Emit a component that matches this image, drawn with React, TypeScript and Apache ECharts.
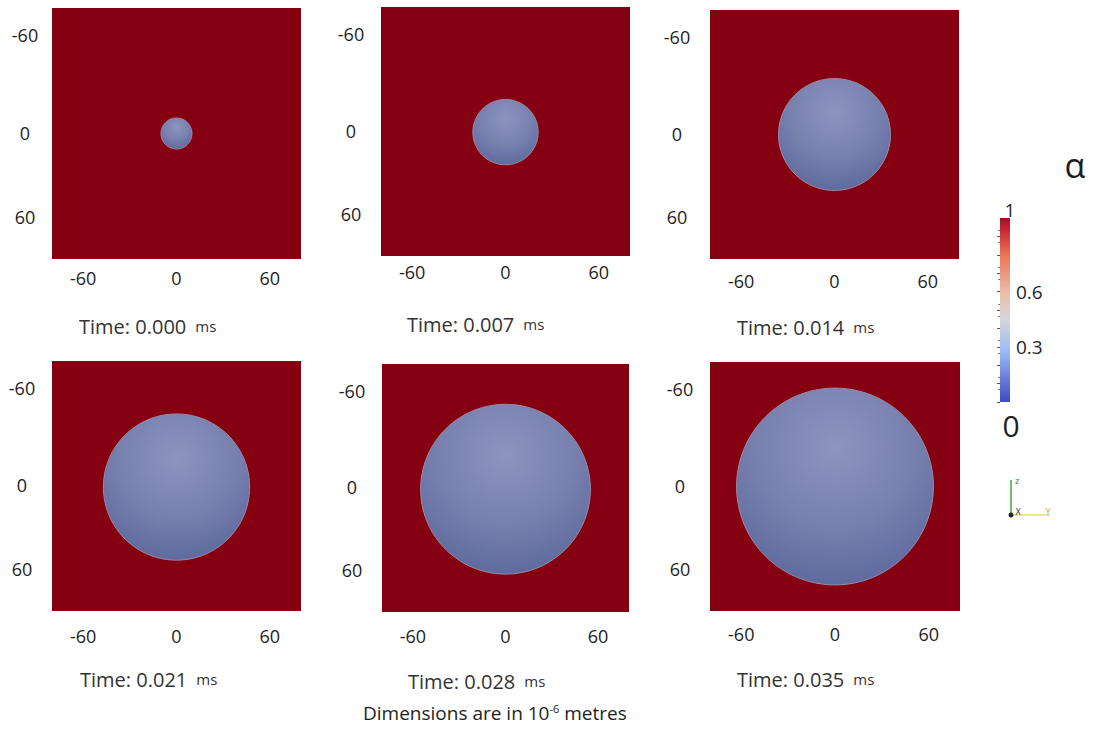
import React, { useEffect, useRef } from "react";
import * as echarts from "echarts";

// ---- data ----
const TIMES = ["0.000", "0.007", "0.014", "0.021", "0.028", "0.035"];
const BUBBLE_RADIUS = [10, 21, 36, 47, 55, 63]; // in 10^-6 m
const BUBBLE_CX = [0, 0, 0, 0, 0, 0];
const BUBBLE_CY = [0, 0, 0, 0, 0, 0];
const TICK_VALUES = [-60, 0, 60];
const AXIS_MIN = -80;
const AXIS_MAX = 80;
const COLORBAR_TICKS = [0.3, 0.6];
const COLORBAR_MIN = 0;
const COLORBAR_MAX = 1;

// ---- layout ----
const PANELS = [
  { left: 52, top: 8, width: 249, height: 251, xm: 10, ym: 27, tx: 79, ty: 330 },
  { left: 381, top: 7, width: 249, height: 249, xm: 7, ym: 30, tx: 407, ty: 328 },
  { left: 710, top: 10, width: 249, height: 249, xm: 13, ym: 33, tx: 737, ty: 331 },
  { left: 52, top: 361, width: 249, height: 250, xm: 16, ym: 30, tx: 80, ty: 683 },
  { left: 382, top: 364, width: 247, height: 248, xm: 15, ym: 30, tx: 408, ty: 685 },
  { left: 710, top: 362, width: 250, height: 249, xm: 14, ym: 30, tx: 737, ty: 683 },
];
const FONT = "Open Sans";
const RED = "#850010";
const INK = "#1e1e1e";

export default function App() {
  const ref = useRef<HTMLDivElement>(null);
  useEffect(() => {
    document.body.style.margin = "0";
    if (!ref.current) return;
    const chart = echarts.init(ref.current, undefined, { renderer: "svg" });

    const grids: any[] = [];
    const xAxes: any[] = [];
    const yAxes: any[] = [];
    const series: any[] = [];
    const titles: any[] = [];

    PANELS.forEach((p, i) => {
      grids.push({
        left: p.left, top: p.top, width: p.width, height: p.height,
        show: true, backgroundColor: RED, borderWidth: 0,
      });
      xAxes.push({
        type: "value", gridIndex: i, min: AXIS_MIN, max: AXIS_MAX,
        axisLine: { show: false }, axisTick: { show: false }, splitLine: { show: false },
        axisLabel: {
          customValues: TICK_VALUES, margin: p.xm, fontFamily: FONT, fontSize: 18, color: INK,
        },
      });
      yAxes.push({
        type: "value", gridIndex: i, min: AXIS_MIN, max: AXIS_MAX, inverse: true,
        axisLine: { show: false }, axisTick: { show: false }, splitLine: { show: false },
        axisLabel: {
          customValues: TICK_VALUES, margin: p.ym, align: "center", fontFamily: FONT, fontSize: 18, color: INK,
          formatter: (v: number) => (v < 0 ? `{a|${v}}` : v > 0 ? `{b|${v}}` : `{c|${v}}`),
          rich: {
            a: { fontFamily: FONT, fontSize: 18, color: INK, padding: [0, 0, 8, 0] },
            b: { fontFamily: FONT, fontSize: 18, color: INK, padding: [0, 0, 22, 0] },
            c: { fontFamily: FONT, fontSize: 18, color: INK, padding: [0, 0, 2, 0] },
          },
        },
      });
      series.push({
        type: "custom", coordinateSystem: "cartesian2d", xAxisIndex: i, yAxisIndex: i,
        data: [[BUBBLE_CX[i], BUBBLE_CY[i], BUBBLE_RADIUS[i]]],
        renderItem: (params: any, api: any) => {
          const c = api.coord([api.value(0), api.value(1)]);
          const s = api.size([api.value(2), 0]);
          return {
            type: "circle",
            shape: { cx: c[0], cy: c[1], r: s[0] },
            style: {
              fill: new echarts.graphic.RadialGradient(0.5, 0.3, 0.8, [
                { offset: 0, color: "#8e94bf" },
                { offset: 0.5, color: "#7880ae" },
                { offset: 1, color: "#56639a" },
              ]),
              stroke: "#9a8aa4",
              lineWidth: 1,
            },
          };
        },
      });
      titles.push({
        text: `{t|Time: ${TIMES[i]} }{u| ms}`,
        left: p.tx, top: p.ty - 14, padding: 0,
        textStyle: {
          fontWeight: "normal",
          rich: {
            t: { fontFamily: FONT, fontSize: 20, color: "#333", fontWeight: "normal" },
            u: { fontFamily: FONT, fontSize: 15, color: "#333", fontWeight: "normal" },
          },
        },
      });
    });

    titles.push({
      text: "{a|Dimensions are in 10}{s|-6}{a| metres}",
      left: 363, top: 703, padding: 0,
      textStyle: {
        fontWeight: "normal",
        rich: {
          a: { fontFamily: FONT, fontSize: 19, color: INK, fontWeight: "normal", verticalAlign: "bottom" },
          s: { fontFamily: FONT, fontSize: 11, color: INK, fontWeight: "normal", verticalAlign: "top" },
        },
      },
    });

    // colour bar grid
    const cbIndex = PANELS.length;
    grids.push({
      left: 1000, top: 218, width: 10, height: 184, show: true, borderWidth: 0,
      backgroundColor: new echarts.graphic.LinearGradient(0, 0, 0, 1, [
        { offset: 0, color: "#b40426" },
        { offset: 0.2, color: "#ec7356" },
        { offset: 0.42, color: "#e8c2ae" },
        { offset: 0.55, color: "#d6d6dc" },
        { offset: 0.72, color: "#9ebcf5" },
        { offset: 1, color: "#3b4cc0" },
      ]),
    });
    xAxes.push({ type: "value", gridIndex: cbIndex, show: false, min: 0, max: 1 });
    yAxes.push({
      type: "value", gridIndex: cbIndex, position: "right", min: COLORBAR_MIN, max: COLORBAR_MAX,
      axisLine: { show: false }, splitLine: { show: false },
      axisTick: { show: true, customValues: [0, 0.1, 0.2, 0.3, 0.4, 0.5, 0.6, 0.7, 0.8, 0.9], length: 3, inside: true, lineStyle: { color: "#555", width: 1 } },
      minorTick: { show: true, splitNumber: 3, length: 2, lineStyle: { color: "#777" } },
      axisLabel: { customValues: COLORBAR_TICKS, margin: 6, fontFamily: FONT, fontSize: 19, color: INK },
    });

    const graphic: any[] = [
      { type: "text", x: 1010, y: 210, style: { text: "1", font: `18px "${FONT}"`, fill: INK, align: "center", verticalAlign: "middle" } },
      { type: "text", x: 1011, y: 425, style: { text: "0", font: `30px "${FONT}"`, fill: INK, align: "center", verticalAlign: "middle" } },
      { type: "text", x: 1075, y: 165, style: { text: "α", font: `34px "${FONT}"`, fill: INK, align: "center", verticalAlign: "middle" } },
      { type: "line", shape: { x1: 1011, y1: 480, x2: 1011, y2: 515 }, style: { stroke: "#3caa3c", lineWidth: 1.5 } },
      { type: "line", shape: { x1: 1011, y1: 515, x2: 1050, y2: 515 }, style: { stroke: "#e8e070", lineWidth: 1.5 } },
      { type: "circle", shape: { cx: 1011, cy: 515, r: 2.5 }, style: { fill: "#222" } },
      { type: "text", x: 1017, y: 480, style: { text: "z", font: `9px "${FONT}"`, fill: "#2a8a2a", align: "center", verticalAlign: "middle" } },
      { type: "text", x: 1018, y: 511, style: { text: "X", font: `9px "${FONT}"`, fill: "#333", align: "center", verticalAlign: "middle" } },
      { type: "text", x: 1048, y: 511, style: { text: "Y", font: `9px "${FONT}"`, fill: "#b8b040", align: "center", verticalAlign: "middle" } },
    ];

    chart.setOption({
      animation: false,
      backgroundColor: "#ffffff",
      title: titles,
      grid: grids,
      xAxis: xAxes,
      yAxis: yAxes,
      series,
      graphic,
    });
    return () => chart.dispose();
  }, []);
  return <div ref={ref} style={{ width: 1102, height: 729 }} />;
}
